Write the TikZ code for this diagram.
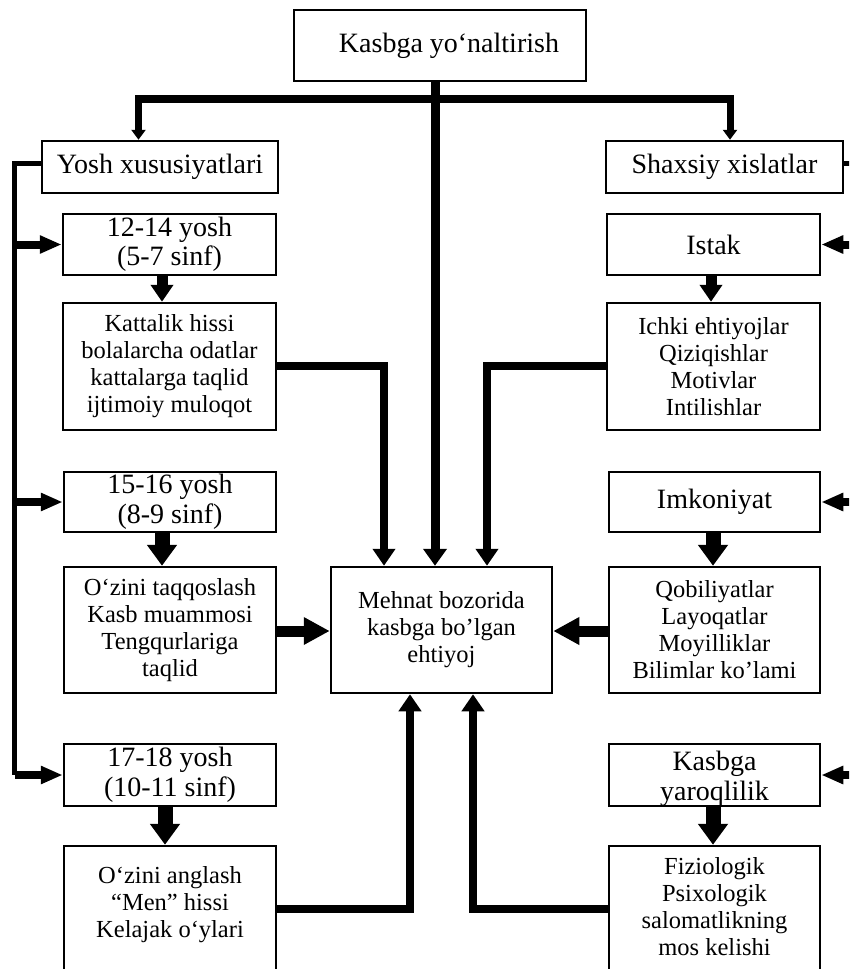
\documentclass[tikz,border=0pt]{standalone}
\usepackage{fontspec}
\setmainfont{Liberation Serif}
\usetikzlibrary{arrows.meta}
\begin{document}
\begin{tikzpicture}[x=1pt,y=-1pt,
  box/.style={draw, line width=2.5pt, align=center, inner sep=0pt},
  hf/.style={font=\fontsize{28}{29.5}\selectfont},
  bf/.style={font=\fontsize{24.5}{27}\selectfont},
  bar/.style={line width=8pt, line cap=rect},
  toparr/.style={line width=7pt, -{Triangle[length=10pt,width=14pt]}},
  central/.style={line width=9pt, -{Triangle[length=17pt,width=23pt]}},
  bigarr/.style={line width=8pt, -{Triangle[length=17pt,width=22pt]}},
  harr/.style={line width=11pt, -{Triangle[length=26pt,width=26pt]}},
  dnarrA/.style={line width=11pt, -{Triangle[length=17pt,width=22pt]}},
  dnarr/.style={line width=15pt, -{Triangle[length=21pt,width=29pt]}},
  thinline/.style={line width=5pt},
  sidearr/.style={line width=8pt, -{Triangle[length=22pt,width=17pt]}}
]
\useasboundingbox (0,0) rectangle (849,969);
\clip (0,0) rectangle (849,969);

% boxes
\node[box,hf,minimum width=292,minimum height=71] (top) at (440,45.5) {\hspace*{18pt}Kasbga yo‘naltirish};
\node[box,hf,minimum width=236,minimum height=52] (yosh) at (160,167) {Yosh xususiyatlari};
\node[box,hf,minimum width=237,minimum height=52] (shax) at (724.5,167) {Shaxsiy xislatlar};

\node[box,hf,minimum width=213,minimum height=61] (a1) at (169.5,244.5) {12-14 yosh\\(5-7 sinf)};
\node[box,bf,minimum width=213,minimum height=127] (k1) at (169.5,366.5) {Kattalik hissi\\bolalarcha odatlar\\kattalarga taqlid\\ijtimoiy muloqot};
\node[box,hf,minimum width=212,minimum height=60] (a2) at (170,502) {15-16 yosh\\(8-9 sinf)};
\node[box,bf,minimum width=212,minimum height=126] (k2) at (170,630) {O‘zini taqqoslash\\Kasb muammosi\\Tengqurlariga\\taqlid};
\node[box,hf,minimum width=212,minimum height=62] (a3) at (170,775) {17-18 yosh\\(10-11 sinf)};
\node[box,minimum width=212,minimum height=160] (k3) at (170,926) {};
\node[bf,align=center,inner sep=0pt] (k3t) at (170,905) {O‘zini anglash\\“Men” hissi\\Kelajak o‘ylari};

\node[box,bf,minimum width=221,minimum height=126] (meh) at (441.5,630) {Mehnat bozorida\\kasbga bo’lgan\\ehtiyoj};

\node[box,hf,minimum width=213,minimum height=61] (ist) at (713.5,244.5) {Istak};
\node[box,bf,minimum width=213,minimum height=127] (ich) at (713.5,366.5) {Ichki ehtiyojlar\\Qiziqishlar\\Motivlar\\Intilishlar};
\node[box,hf,minimum width=211,minimum height=60] (imk) at (714.5,502) {Imkoniyat};
\node[box,bf,minimum width=211,minimum height=126] (qob) at (714.5,630) {Qobiliyatlar\\Layoqatlar\\Moyilliklar\\Bilimlar ko’lami};
\node[box,minimum width=211,minimum height=62] (yar) at (714.5,775) {};
\node[hf,align=center,inner sep=0pt,font=\fontsize{28}{30}\selectfont] (yart) at (714.5,779) {Kasbga\\yaroqlilik};
\node[box,minimum width=211,minimum height=160] (fiz) at (714.5,926) {};
\node[bf,align=center,inner sep=0pt] (fizt) at (714.5,907) {Fiziologik\\Psixologik\\salomatlikning\\mos kelishi};

% helper coordinates
\coordinate (x384) at (384,0);
\coordinate (x435) at (435,0);
\coordinate (x487) at (487,0);
\coordinate (x410) at (410,0);
\coordinate (x473) at (473,0);
\coordinate (x162) at (162,0);
\coordinate (x165) at (165,0);
\coordinate (x711) at (711,0);
\coordinate (x713) at (713,0);
\coordinate (y366) at (0,366);
\coordinate (y909) at (0,909);
\coordinate (y163) at (0,163);
\coordinate (y631) at (0,631);
\coordinate (bl) at (138.5,99);
\coordinate (br) at (730,99);
\coordinate (lvb) at (14.5,775);
\coordinate (rvt) at (858,163);
\coordinate (rvb) at (858,775);

% top distribution
\draw[bar] (bl) -- (br);
\draw[toparr] (bl) -- (bl |- yosh.north);
\draw[toparr] (br) -- (br |- shax.north);
\draw[central] (top.south -| x435) -- (x435 |- meh.north);

% into Mehnat
\draw[bigarr] (k1.east |- y366) -| (x384 |- meh.north);
\draw[bigarr] (ich.west |- y366) -| (x487 |- meh.north);
\draw[bigarr] (k3.east |- y909) -| (x410 |- meh.south);
\draw[bigarr] (fiz.west |- y909) -| (x473 |- meh.south);
\draw[harr] (k2.east |- y631) -- (meh.west |- y631);
\draw[harr] (qob.west |- y631) -- (meh.east |- y631);

% down arrows
\draw[dnarrA] (a1.south -| x162) -- (k1.north -| x162);
\draw[dnarr] (a2.south -| x162) -- (k2.north -| x162);
\draw[dnarr] (a3.south -| x165) -- (k3.north -| x165);
\draw[dnarrA] (ist.south -| x711) -- (ich.north -| x711);
\draw[dnarr] (imk.south -| x713) -- (qob.north -| x713);
\draw[dnarr] (yar.south -| x713) -- (fiz.north -| x713);

% left side
\draw[thinline] (yosh.west |- y163) -| (lvb);
\draw[sidearr] (a1.west -| lvb) -- (a1.west);
\draw[sidearr] (a2.west -| lvb) -- (a2.west);
\draw[sidearr] (a3.west -| lvb) -- (a3.west);

% right side
\draw[thinline] (shax.east |- y163) -- (rvt) -- (rvb);
\draw[sidearr] (ist.east -| rvt) -- (ist.east);
\draw[sidearr] (imk.east -| rvt) -- (imk.east);
\draw[sidearr] (yar.east -| rvt) -- (yar.east);
\end{tikzpicture}
\end{document}
